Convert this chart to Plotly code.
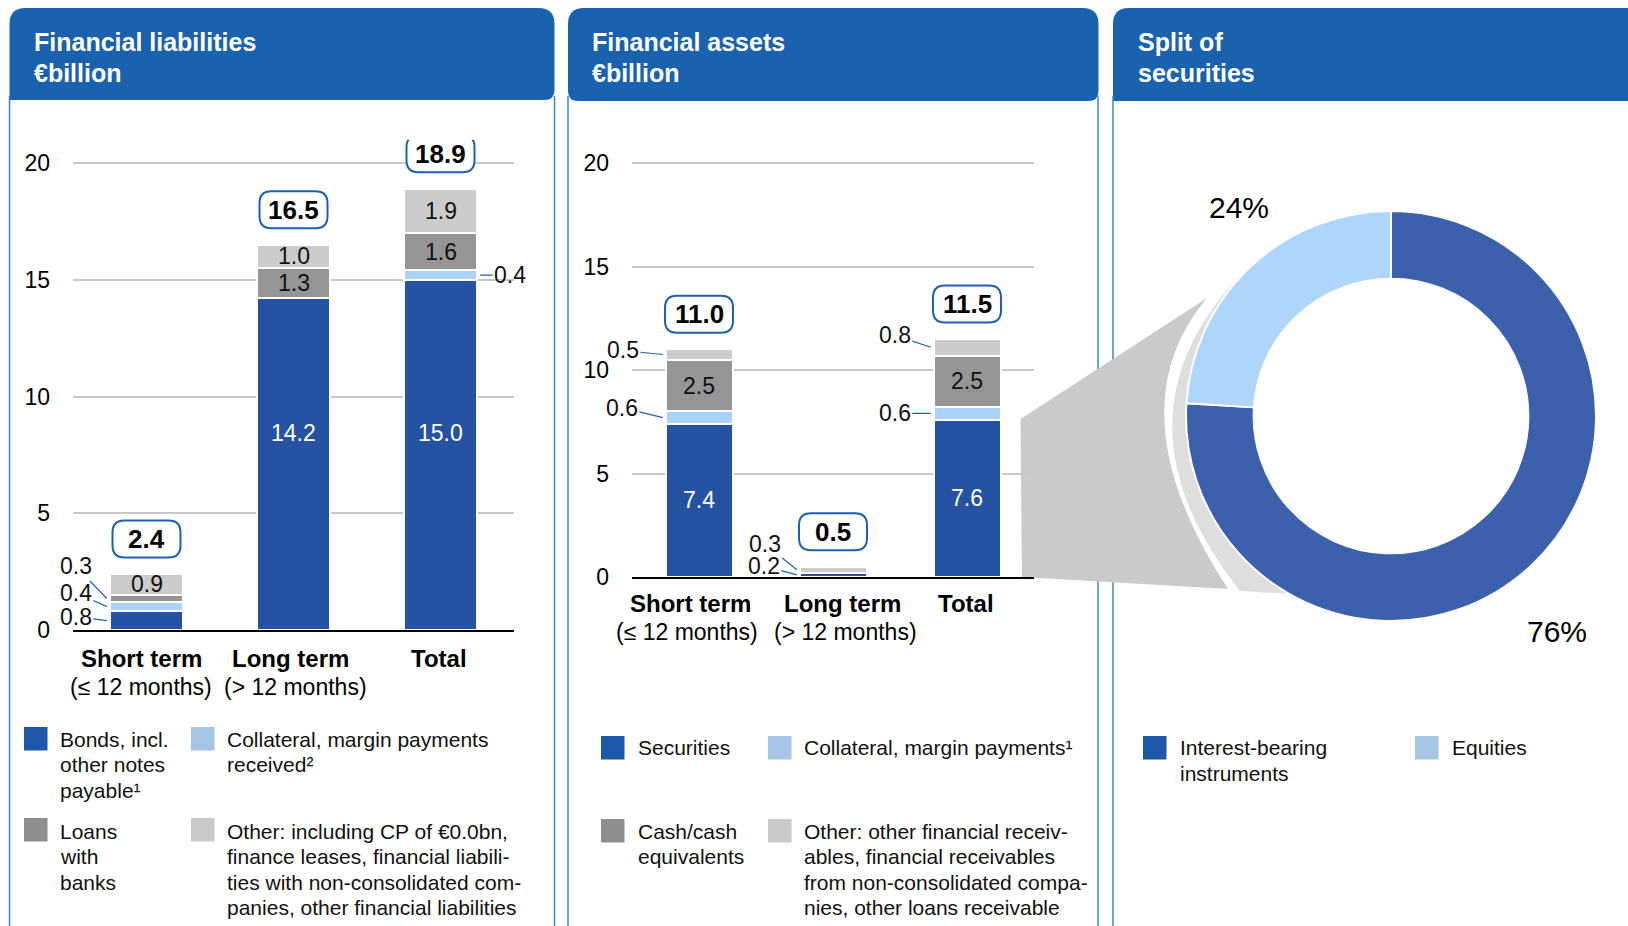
import plotly.graph_objects as go

W, H = 1628, 926
FONT = "Liberation Sans, Arial, sans-serif"

# ---------------- data ----------------
categories = ["Short term", "Long term", "Total"]
category_line1 = ["Short term", "Long term", "Total"]
category_line2 = ["(≤ 12 months)", "(> 12 months)", ""]
y_ticks = [0, 5, 10, 15, 20]

liab_series = ["Bonds, incl. other notes payable", "Collateral, margin payments received",
               "Loans with banks", "Other"]
liab_bonds = [0.8, 14.2, 15.0]
liab_collateral = [0.4, 0.0, 0.4]
liab_loans = [0.3, 1.3, 1.6]
liab_other = [0.9, 1.0, 1.9]
liab_totals = [2.4, 16.5, 18.9]

asset_series = ["Securities", "Collateral, margin payments", "Cash/cash equivalents", "Other"]
asset_securities = [7.4, 0.2, 7.6]
asset_collateral = [0.6, 0.0, 0.6]
asset_cash = [2.5, 0.0, 2.5]
asset_other = [0.5, 0.3, 0.8]
asset_totals = [11.0, 0.5, 11.5]

split_labels = ["Interest-bearing instruments", "Equities"]
split_values = [76, 24]

# ---------------- styles ----------------
C_BLUE = "#2652A3"
C_LBLUE = "#A9D3FB"
C_GRAY = "#959595"
C_LGRAY = "#CBCBCB"
SERIES_COLORS = [C_BLUE, C_LBLUE, C_GRAY, C_LGRAY]
LEG_COLORS = ["#1D59A8", "#A6C4E5", "#8E8E8E", "#C9C9C9"]
HEADER = "#1A62AE"
BORDER = "#3C86C6"
LEADER = "#2163AE"
TXT = "#111111"


def px(x):
    return x / W


def py(y):
    return 1 - y / H


fig = go.Figure()


def add_bars(series_vals, names, xa, ya):
    for vals, col, nm in zip(series_vals, SERIES_COLORS, names):
        fig.add_trace(go.Bar(
            x=categories, y=vals, width=0.5, xaxis=xa, yaxis=ya, name=nm,
            marker=dict(color=col, line=dict(color="white", width=2)),
            showlegend=False, hoverinfo="y"))


add_bars([liab_bonds, liab_collateral, liab_loans, liab_other], liab_series, "x", "y")
add_bars([asset_securities, asset_collateral, asset_cash, asset_other], asset_series, "x2", "y2")

fig.add_trace(go.Pie(
    values=split_values, labels=split_labels, hole=0.67, sort=False,
    direction="clockwise", rotation=0, textinfo="none", showlegend=False,
    marker=dict(colors=["#3C60AC", "#AED5FB"], line=dict(color="white", width=2)),
    domain=dict(x=[px(1186), px(1596)], y=[py(621), py(211)])))

shapes = []
annotations = []


# ---------- headers / panel frames ----------
def rrect_path(x0, y0, x1, y1, rtl, rtr, rbr, rbl):
    def p(x, y):
        return f"{px(x):.5f},{py(y):.5f}"
    return (f"M {p(x0 + rtl, y0)} L {p(x1 - rtr, y0)} Q {p(x1, y0)} {p(x1, y0 + rtr)} "
            f"L {p(x1, y1 - rbr)} Q {p(x1, y1)} {p(x1 - rbr, y1)} "
            f"L {p(x0 + rbl, y1)} Q {p(x0, y1)} {p(x0, y1 - rbl)} "
            f"L {p(x0, y0 + rtl)} Q {p(x0, y0)} {p(x0 + rtl, y0)} Z")


for (x0, x1, y1, radii) in [(9.5, 554.5, 100, (16, 16, 10, 0)),
                            (568, 1098.5, 101, (16, 16, 10, 10)),
                            (1113, 1660, 101, (16, 0, 0, 0))]:
    shapes.append(dict(type="path", xref="paper", yref="paper", layer="below",
                       path=rrect_path(x0, 8, x1, y1, *radii),
                       fillcolor=HEADER, line=dict(width=0)))

for xb in [9.5, 554.5, 568, 1098, 1113]:
    shapes.append(dict(type="line", xref="paper", yref="paper", layer="below",
                       x0=px(xb), x1=px(xb), y0=py(96), y1=py(930),
                       line=dict(color=BORDER, width=1.5)))

titles = [(32, ["Financial liabilities", "€billion"]),
          (590, ["Financial assets", "€billion"]),
          (1136, ["Split of", "securities"])]
for x, lines in titles:
    for i, t in enumerate(lines):
        annotations.append(dict(xref="paper", yref="paper", x=px(x), y=py(41.5 + 31.2 * i),
                                xanchor="left", yanchor="middle", showarrow=False,
                                text=f"<b>{t}</b>", font=dict(family=FONT, size=25, color="white")))


# ---------- funnel from total securities to donut ----------
def path_px(cmds):
    out = []
    for c in cmds:
        if isinstance(c, str):
            out.append(c)
        else:
            out.append(f"{px(c[0]):.5f},{py(c[1]):.5f}")
    return " ".join(out)


shapes.append(dict(type="path", xref="paper", yref="paper", layer="below",
                   path=path_px(["M", (1020.5, 419), "L", (1207, 298), "Q", (1112, 411), (1228, 589),
                                 "L", (1022, 577), "Z"]),
                   fillcolor="#CACACA", line=dict(width=0)))
shapes.append(dict(type="path", xref="paper", yref="paper", layer="below",
                   path=path_px(["M", (1233, 283), "Q", (1108, 424), (1240, 591),
                                 "L", (1290, 594), "L", (1215, 470), "L", (1215, 340), "Z"]),
                   fillcolor="#DEDEDE", line=dict(width=0)))


# ---------- value labels ----------
def add_labels(series_vals, styles, xref, yref):
    bases = [0.0] * len(categories)
    for si, vals in enumerate(series_vals):
        for ci, v in enumerate(vals):
            st = styles[si][ci]
            mid = bases[ci] + v / 2
            if st is not None:
                txt = f"{v:.1f}"
                if st[0] == "in":
                    annotations.append(dict(x=categories[ci], y=mid, xref=xref, yref=yref,
                                            text=txt, showarrow=False, yshift=st[2],
                                            font=dict(family=FONT, size=23, color=st[1])))
                else:
                    side, ax, ay = st[1], st[2], st[3]
                    annotations.append(dict(x=ci + side * 0.27, y=mid, xref=xref, yref=yref,
                                            text=txt, showarrow=True, arrowhead=0,
                                            arrowwidth=1.2, arrowcolor=LEADER, standoff=0,
                                            ax=ax, ay=ay, axref="pixel", ayref="pixel",
                                            font=dict(family=FONT, size=23, color=TXT)))
            bases[ci] += v


liab_styles = [
    [("out", -1, -31, -4), ("in", "white", 31), ("in", "white", 22)],
    [("out", -1, -31, -14), None, ("out", 1, 30, 0)],
    [("out", -1, -31, -32), ("in", TXT, 0), ("in", TXT, 0)],
    [("in", TXT, 0), ("in", TXT, 0), ("in", TXT, 0)],
]
asset_styles = [
    [("in", "white", 0), ("out", -1, -33, -9), ("in", "white", 0)],
    [("out", -1, -41, -10), None, ("out", -1, -36, 0)],
    [("in", TXT, 0), None, ("in", TXT, 0)],
    [("out", -1, -40, -4), ("out", -1, -32, -26), ("out", -1, -36, -12)],
]
add_labels([liab_bonds, liab_collateral, liab_loans, liab_other], liab_styles, "x", "y")
add_labels([asset_securities, asset_collateral, asset_cash, asset_other], asset_styles, "x2", "y2")


# ---------- category labels ----------
def add_cat_labels(xref, yref, shifts1, shifts2, y1, y2):
    for ci, cat in enumerate(categories):
        annotations.append(dict(x=cat, y=0, xref=xref, yref=yref, xshift=shifts1[ci], yshift=-y1,
                                text=f"<b>{category_line1[ci]}</b>", showarrow=False,
                                font=dict(family=FONT, size=24, color="black")))
        if category_line2[ci]:
            annotations.append(dict(x=cat, y=0, xref=xref, yref=yref, xshift=shifts2[ci], yshift=-y2,
                                    text=category_line2[ci], showarrow=False,
                                    font=dict(family=FONT, size=23, color="black")))


add_cat_labels("x", "y", [-5, -3, -2], [-6, 2, 0], 28, 57)
add_cat_labels("x2", "y2", [-9, 9, -1], [-12, 12, 0], 26, 55)


# ---------- total boxes ----------
def box_path(w=34, h=18.5, c=35, r=12):
    pts = [(-w + r, c - h), "L", (w - r, c - h), "Q", (w, c - h), (w, c - h + r), "L", (w, c + h - r),
           "Q", (w, c + h), (w - r, c + h), "L", (-w + r, c + h), "Q", (-w, c + h), (-w, c + h - r),
           "L", (-w, c - h + r), "Q", (-w, c - h), (-w + r, c - h), "Z"]
    out = ["M"]
    for p in pts:
        out.append(p if isinstance(p, str) else f"{p[0]},{p[1]}")
    return " ".join(out)


for totals, xref, yref in [(liab_totals, "x", "y"), (asset_totals, "x2", "y2")]:
    for ci, t in enumerate(totals):
        shapes.append(dict(type="path", xref=xref, yref=yref, xsizemode="pixel", ysizemode="pixel",
                           xanchor=categories[ci], yanchor=t, path=box_path(), layer="above",
                           fillcolor="white", line=dict(color="#1F5FAD", width=2)))
        annotations.append(dict(x=categories[ci], y=t, xref=xref, yref=yref, yshift=35,
                                text=f"<b>{t:.1f}</b>", showarrow=False,
                                font=dict(family=FONT, size=26, color="black")))

# ---------- donut labels ----------
annotations.append(dict(xref="paper", yref="paper", x=px(1239), y=py(207), showarrow=False,
                        xanchor="center", yanchor="middle",
                        text=f"{split_values[1]}%", font=dict(family=FONT, size=30, color="black")))
annotations.append(dict(xref="paper", yref="paper", x=px(1557), y=py(631), showarrow=False,
                        xanchor="center", yanchor="middle",
                        text=f"{split_values[0]}%", font=dict(family=FONT, size=30, color="black")))


# ---------- legends ----------
def legend_item(x_sq, y_sq, color, x_txt, y_txt, lines, dy=25.6, sq=23.5):
    shapes.append(dict(type="rect", xref="paper", yref="paper", layer="below",
                       x0=px(x_sq), x1=px(x_sq + sq), y0=py(y_sq), y1=py(y_sq + sq),
                       fillcolor=color, line=dict(width=0)))
    for i, t in enumerate(lines):
        annotations.append(dict(xref="paper", yref="paper", x=px(x_txt), y=py(y_txt + dy * i),
                                xanchor="left", yanchor="middle", showarrow=False, text=t,
                                font=dict(family=FONT, size=21, color=TXT)))


legend_item(24, 727, LEG_COLORS[0], 58, 739, ["Bonds, incl.", "other notes", "payable¹"])
legend_item(191, 727, LEG_COLORS[1], 225, 739, ["Collateral, margin payments", "received²"])
legend_item(24, 818, LEG_COLORS[2], 58, 831, ["Loans", "with", "banks"])
legend_item(191, 818, LEG_COLORS[3], 225, 831,
            ["Other: including CP of €0.0bn,", "finance leases, financial liabili-",
             "ties with non-consolidated com-", "panies, other financial liabilities"])

legend_item(601, 736, LEG_COLORS[0], 635.5, 747.5, ["Securities"])
legend_item(768, 736, LEG_COLORS[1], 801.5, 747.5, ["Collateral, margin payments¹"])
legend_item(601, 819, LEG_COLORS[2], 635.5, 831, ["Cash/cash", "equivalents"])
legend_item(768, 819, LEG_COLORS[3], 801.5, 831,
            ["Other: other financial receiv-", "ables, financial receivables",
             "from non-consolidated compa-", "nies, other loans receivable"])

legend_item(1143, 736, LEG_COLORS[0], 1177.5, 747.5, ["Interest-bearing", "instruments"])
legend_item(1415, 736, LEG_COLORS[1], 1449.5, 747.5, ["Equities"])

# ---------- axes ----------
xax = dict(type="category", range=[-0.5, 2.5], showticklabels=False, showgrid=False,
           zeroline=False, showline=True, linecolor="black", linewidth=2, ticks="",
           fixedrange=True, automargin=False, title=dict(text=""))
yax = dict(range=[0, 21], tickmode="array", tickvals=y_ticks, showgrid=True,
           gridcolor="#C8C8C8", gridwidth=2, zeroline=False, showline=False, ticks="",
           ticklabelstandoff=22, tickfont=dict(family=FONT, size=23, color="black"),
           fixedrange=True, automargin=False, title=dict(text=""))

fig.update_layout(
    template="none",
    width=W, height=H, autosize=False,
    margin=dict(l=0, r=0, t=0, b=0, pad=0, autoexpand=False),
    paper_bgcolor="white", plot_bgcolor="rgba(0,0,0,0)",
    barmode="stack", bargap=0.5, showlegend=False,
    font=dict(family=FONT, color=TXT),
    xaxis=dict(xax, domain=[px(73), px(514)], anchor="y"),
    yaxis=dict(yax, domain=[py(630), py(630 - 21 * 23.35)], anchor="x"),
    xaxis2=dict(xax, domain=[px(632), px(1034)], anchor="y2"),
    yaxis2=dict(yax, domain=[py(577), py(577 - 21 * 20.7)], anchor="x2"),
    shapes=shapes, annotations=annotations,
)

POST = ("var d=document.getElementById('{plot_id}');"
        "d.style.position='fixed';d.style.left='0px';d.style.top='0px';"
        "document.documentElement.style.margin='0';document.body.style.margin='0';"
        "document.documentElement.style.overflow='hidden';document.body.style.overflow='hidden';")

fig.write_html("out.html", config={"displayModeBar": False, "responsive": False},
               post_script=POST)
